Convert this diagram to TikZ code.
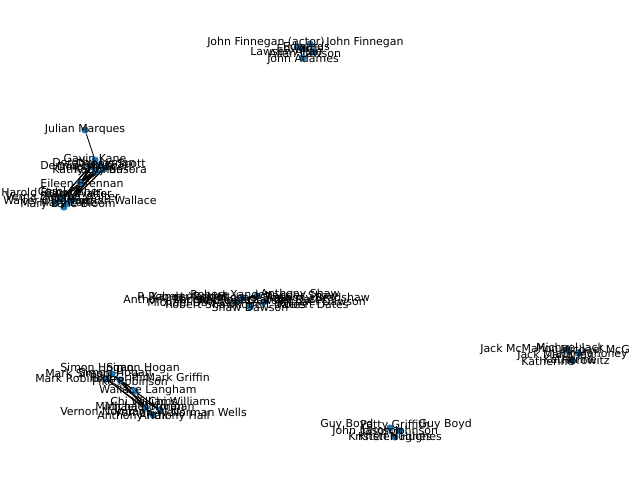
\documentclass[tikz,border=0pt]{standalone}
\usepackage{fontspec}
\setmainfont{DejaVu Sans}
\usetikzlibrary{backgrounds}
\definecolor{nxblue}{HTML}{1F77B4}

\begin{document}
\begin{tikzpicture}[
  x=0.025cm, y=-0.025cm,
  vertex/.style={circle, fill=nxblue, inner sep=0pt, minimum size=1.8mm},
  lbl/.style={font=\fontsize{7.8}{9}\selectfont, inner sep=0pt},
  edge/.style={black, line width=0.6pt},
]
\useasboundingbox (0,0) rectangle (640,480);

% === TOP CLUSTER ===
\node[vertex] (a1) at (303,58) {};
\node[vertex] (a2) at (310,44) {};
\node[vertex] (a3) at (305,49) {};
\node[vertex] (a4) at (313,52) {};
\node[vertex] (a5) at (299,47) {};
\node[lbl] (la1) at (266,42) {John Finnegan (actor)};
\node[lbl] (la2) at (365,42) {John Finnegan};
\node[lbl, anchor=west] (la3) at (250,51) {Lawson Allan};
\node[lbl, anchor=east] (la4) at (330,46) {Edwards};
\node[lbl] (la5) at (305,53) {Allan Lawson};
\node[lbl] (la6) at (300,48) {Edwards};
\node[lbl] (la7) at (303,59) {John Adames};

% === LEFT CLUSTER ===
\node[vertex] (julian) at (85,130) {};
\node[vertex] (gavin) at (95,160) {};
\node[vertex] (b1) at (100,165) {};
\node[vertex] (b2) at (96,171) {};
\node[vertex] (b3) at (90,167) {};
\node[vertex] (b4) at (104,169) {};
\node[vertex] (eileen) at (80,183) {};
\node[vertex] (e1) at (62,198) {};
\node[vertex] (e2) at (68,203) {};
\node[vertex] (e3) at (64,207) {};
\node[vertex] (e4) at (73,199) {};
\node[vertex] (e5) at (56,203) {};
\node[lbl] (lj) at (85,129) {Julian Marques};
\node[lbl] (lg) at (95,158) {Gavin Kane};
\node[lbl, anchor=east] (lb1) at (146,163) {Dennis Scott};
\node[lbl, anchor=west] (lb2) at (52,163) {Dorothy Lyman};
\node[lbl, anchor=west] (lb3) at (40,166) {Dennis Lyman};
\node[lbl, anchor=east] (lb4) at (147,170) {Kathy Basora};
\node[lbl] (lb5) at (95,167) {Dorothy Scott};
\node[lbl, anchor=west] (lb6) at (52,170) {Kathy Lyman};
\node[lbl] (le) at (82,183) {Eileen Brennan};
\node[lbl, anchor=west] (le1) at (1,192) {Harold Fisher};
\node[lbl] (le2) at (70,191) {Carol Fisher};
\node[lbl, anchor=east] (le7) at (112,193) {Carol Walter};
\node[lbl, anchor=west] (le3) at (5,196) {Verna Bloom};
\node[lbl, anchor=east] (le8) at (120,196) {Verna Walter};
\node[lbl, anchor=east] (le4) at (157,200) {Norman Wallace};
\node[lbl, anchor=west] (le5) at (3,200) {Walter Olkewicz};
\node[lbl, anchor=west] (le6) at (20,204) {Mary Lane Bloom};
\node[lbl] (le9) at (68,204) {Mary Lane};

% === CENTER CLUSTER ===
\node[vertex] (c0) at (250,307) {};
\node[vertex] (c1) at (243,298) {};
\node[vertex] (c2) at (257,296) {};
\node[vertex] (c3) at (236,302) {};
\node[vertex] (c4) at (264,302) {};
\node[lbl, anchor=west] (lc1) at (123,300) {Anthony Robert};
\node[lbl, anchor=west] (lc2) at (137,296) {R Robert Xander};
\node[lbl, anchor=west] (lc3) at (147,302) {Michael Dawson};
\node[lbl, anchor=east] (lc4) at (370,298) {Anthony Bradshaw};
\node[lbl, anchor=east] (lc5) at (338,295) {Xander Shaw};
\node[lbl, anchor=east] (lc6) at (366,301) {Michael Dawson};
\node[lbl, anchor=east] (lc7) at (349,304) {Robert Dates};
\node[lbl] (lc8) at (230,294) {Robert Xander};
\node[lbl] (lc9) at (255,297) {Michael Shaw};
\node[lbl] (lc10) at (245,301) {Anthony Dawson};
\node[lbl] (lc11) at (270,304) {Robert Dates};
\node[lbl] (lc12) at (215,299) {Michael Robert};
\node[lbl] (lc13) at (250,307) {Shaw Dawson};
\node[lbl] (lc14) at (290,299) {Xander Dates};
\node[lbl] (lc15) at (200,304) {Robert Shaw};
\node[lbl] (lc16) at (300,294) {Anthony Shaw};
\node[lbl] (lc17) at (190,296) {Xander Robert};

% === RIGHT CLUSTER ===
\node[vertex] (d0) at (572,360) {};
\node[vertex] (d1) at (566,350) {};
\node[vertex] (d2) at (578,353) {};
\node[lbl, anchor=west] (ld1) at (480,349) {Jack McMahon};
\node[lbl, anchor=west] (ld2) at (560,349) {Michael McG};
\node[lbl] (ld7) at (570,348) {Michael Jack};
\node[lbl, anchor=west] (ld3) at (517,355) {Jack Mahoney};
\node[lbl, anchor=east] (ld4) at (628,354) {Jack Mahoney};
\node[lbl, anchor=west] (ld5) at (521,361) {Katherine};
\node[lbl, anchor=east] (ld6) at (610,360) {Horowitz};
\node[lbl] (ld8) at (570,359) {Katherine};

% === BOTTOM LEFT CLUSTER ===
\node[vertex] (f1) at (112,374) {};
\node[vertex] (f2) at (120,380) {};
\node[vertex] (f3) at (106,379) {};
\node[vertex] (wallace) at (135,391) {};
\node[vertex] (g1) at (146,408) {};
\node[vertex] (g2) at (153,415) {};
\node[vertex] (g3) at (160,410) {};
\node[lbl, anchor=west] (lf1) at (60,368) {Simon Hogan};
\node[lbl, anchor=east] (lf2) at (180,368) {Simon Hogan};
\node[lbl, anchor=west] (lf3) at (35,378) {Mark Robinson};
\node[lbl, anchor=east] (lf4) at (210,377) {Mark Griffin};
\node[lbl] (lf5) at (115,373) {Simon Hogan};
\node[lbl, anchor=west] (lf7) at (45,373) {Mark Simon};
\node[lbl] (lf6) at (130,381) {Pike Robinson};
\node[lbl] (lf8) at (120,377) {Pike Griffin};
\node[lbl] (lw) at (148,390) {Wallace Langham};
\node[lbl, anchor=east] (lg1) at (216,401) {Chi Williams};
\node[lbl, anchor=west] (lg2) at (60,412) {Vernon Norman};
\node[lbl, anchor=east] (lg3) at (247,412) {Norman Wells};
\node[lbl, anchor=east] (lg4) at (210,416) {Anthony Hall};
\node[lbl, anchor=west] (lg5) at (110,401) {Chi Williams};
\node[lbl] (lg6) at (150,406) {Michael Norman};
\node[lbl] (lg7) at (150,412) {Vernon Wells};
\node[lbl, anchor=west] (lg8) at (97,416) {Anthony Hall};
\node[lbl, anchor=west] (lg9) at (95,406) {Michael Norman};

% === BOTTOM CLUSTER ===
\node[vertex] (h0) at (395,437) {};
\node[vertex] (h1) at (390,428) {};
\node[vertex] (h2) at (400,431) {};
\node[lbl, anchor=west] (lh1) at (320,424) {Guy Boyd};
\node[lbl, anchor=east] (lh2) at (472,424) {Guy Boyd};
\node[lbl, anchor=west] (lh3) at (332,431) {John Johnson};
\node[lbl, anchor=west] (lh4) at (348,437) {Kristen Hughes};
\node[lbl] (lh5) at (395,425) {Patty Griffith};
\node[lbl] (lh6) at (400,431) {Jason Johnson};
\node[lbl] (lh7) at (400,437) {Kristen Hughes};

\begin{scope}[on background layer]
  \foreach \u/\v in {a1/a3, a3/a2, a2/a5, a4/a1, a5/a4,
      julian/gavin, gavin/b1, b1/b2, b2/b3, b3/b4, e1/e2, e2/e3, e4/e5, eileen/e4,
      c0/c1, c1/c2, c2/c3, c3/c4, d0/d1, d1/d2,
      f1/f2, f2/f3, f2/wallace, wallace/g1, g1/g2, g2/g3, h0/h1, h1/h2}
    \draw[edge] (\u) -- (\v);
  \foreach \u in {gavin, b1, b2, b3, b4}
    \foreach \v in {eileen, e1, e2, e4}
      \draw[edge] (\u) -- (\v);
  \foreach \u in {f1, f2, f3}
    \foreach \v in {g1, g2, g3}
      \draw[edge] (\u) -- (\v);
\end{scope}
\end{tikzpicture}
\end{document}
